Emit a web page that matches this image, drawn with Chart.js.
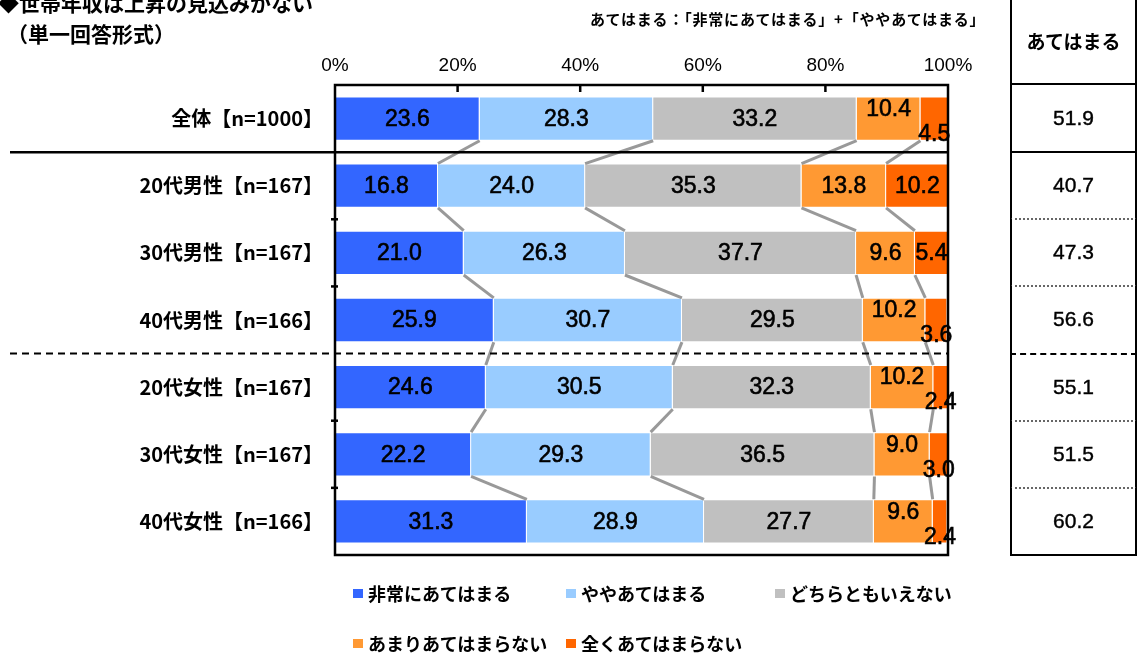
<!DOCTYPE html>
<html lang="ja">
<head>
<meta charset="utf-8">
<script src="https://cdn.jsdelivr.net/npm/chart.js@4"></script>
<style>
  body { margin: 0; background: #fff; overflow: hidden; font-family: 'Liberation Sans', 'Noto Sans CJK JP', sans-serif; }
  #wrap { position: absolute; left: 0; top: 0; width: 1141px; height: 656px; }
  .title { position: absolute; left: -2px; top: -13px; font: bold 21px 'Noto Sans CJK JP'; line-height: 31px; white-space: nowrap; }
  .title .sub { padding-left: 9px; }
  .note { position: absolute; left: 590px; top: 8px; font: bold 15px 'Noto Sans CJK JP'; letter-spacing: 0.8px; white-space: nowrap; }
  .cell { position: absolute; left: 1010px; width: 127px; border-left: 2px solid #000; border-right: 2px solid #000;
          display: flex; align-items: center; justify-content: center; box-sizing: border-box; }
  .legend-item { position: absolute; font: bold 18px 'Noto Sans CJK JP'; white-space: nowrap; display: flex; align-items: center; }
  .legend-item span { display: inline-block; width: 10px; height: 9px; margin-right: 5px; }
</style>
</head>
<body>
<div id="wrap"><canvas id="chart"></canvas></div>
<div class="title">◆世帯年収は上昇の見込みがない<br><span class="sub">（単一回答形式）</span></div>
<div class="note">あてはまる：「非常にあてはまる」+「ややあてはまる」</div>
<div id="table"></div>
<div id="legend"></div>
<script>
var categories = ['全体【n=1000】', '20代男性【n=167】', '30代男性【n=167】', '40代男性【n=166】',
                  '20代女性【n=167】', '30代女性【n=167】', '40代女性【n=166】'];
var seriesNames = ['非常にあてはまる', 'ややあてはまる', 'どちらともいえない', 'あまりあてはまらない', '全くあてはまらない'];
var seriesColors = ['#3366FF', '#99CCFF', '#C0C0C0', '#FF9933', '#FF6600'];

var veryTrue    = [23.6, 16.8, 21.0, 25.9, 24.6, 22.2, 31.3];
var somewhat    = [28.3, 24.0, 26.3, 30.7, 30.5, 29.3, 28.9];
var neither     = [33.2, 35.3, 37.7, 29.5, 32.3, 36.5, 27.7];
var notMuch     = [10.4, 13.8,  9.6, 10.2, 10.2,  9.0,  9.6];
var notAtAll    = [ 4.5, 10.2,  5.4,  3.6,  2.4,  3.0,  2.4];
var applies     = [51.9, 40.7, 47.3, 56.6, 55.1, 51.5, 60.2];
var tickValues  = [0, 20, 40, 60, 80, 100];

var seriesData = [veryTrue, somewhat, neither, notMuch, notAtAll];
var numFont = "'Liberation Sans', 'Noto Sans CJK JP', sans-serif";
var jpFont = "'Noto Sans CJK JP', sans-serif";

// 行の境界（区切り線）の種類: 全体の下は実線, 男性/女性の間は破線
var separators = { 0: 'solid', 3: 'dashed' };

function rowEdges(chart) {
  var y = chart.scales.y;
  var step = (y.bottom - y.top) / categories.length;
  return categories.map(function (c, i) { return y.top + step * i; }).concat([y.bottom]);
}

var framePlugin = {
  id: 'frame',
  afterDatasetsDraw: function (chart) {
    var ctx = chart.ctx, a = chart.chartArea, x = chart.scales.x;
    var edges = rowEdges(chart);
    ctx.save();

    // 行間のつなぎ線
    ctx.strokeStyle = '#999999';
    ctx.lineWidth = 3;
    for (var i = 0; i < categories.length - 1; i++) {
      for (var d = 0; d < 4; d++) {
        var e1 = chart.getDatasetMeta(d).data[i];
        var e2 = chart.getDatasetMeta(d).data[i + 1];
        ctx.beginPath();
        ctx.moveTo(e1.x, e1.y + e1.height / 2);
        ctx.lineTo(e2.x, e2.y - e2.height / 2);
        ctx.stroke();
      }
    }

    // 区切り線
    ctx.strokeStyle = '#000';
    for (var k = 1; k < categories.length; k++) {
      var yy = edges[k];
      var kind = separators[k - 1];
      ctx.beginPath();
      if (kind) {
        ctx.lineWidth = kind === 'solid' ? 2.5 : 2;
        ctx.setLineDash(kind === 'dashed' ? [7, 5] : []);
        ctx.moveTo(10, yy);
        ctx.lineTo(a.right, yy);
      } else {
        ctx.lineWidth = 2.5;
        ctx.setLineDash([]);
        ctx.moveTo(a.left - 4, yy);
        ctx.lineTo(a.left + 3, yy);
      }
      ctx.stroke();
    }
    ctx.setLineDash([]);

    // 外枠と目盛り
    ctx.lineWidth = 2.5;
    ctx.strokeRect(a.left, a.top, a.right - a.left, a.bottom - a.top);
    tickValues.slice(1, -1).forEach(function (v) {
      var px = x.getPixelForValue(v);
      ctx.beginPath();
      ctx.moveTo(px, a.top);
      ctx.lineTo(px, a.top + 7);
      ctx.stroke();
    });

    // 数値ラベル（細い区間は上下にずらす）
    ctx.font = '23px ' + numFont;
    ctx.fillStyle = '#000';
    ctx.lineWidth = 0.6;
    ctx.textAlign = 'center';
    ctx.textBaseline = 'middle';
    for (var r = 0; r < categories.length; r++) {
      var last = chart.getDatasetMeta(4).data[r];
      var lastTxt = notAtAll[r].toFixed(1);
      var tight = ctx.measureText(lastTxt).width > Math.abs(last.x - last.base);
      for (var s = 0; s < seriesData.length; s++) {
        var el = chart.getDatasetMeta(s).data[r];
        var cy = el.y;
        if (tight && s === 3) cy -= 10;
        if (tight && s === 4) cy += 15;
        var txt = seriesData[s][r].toFixed(1);
        var cx = (el.x + el.base) / 2;
        ctx.fillText(txt, cx, cy + 1);
        ctx.strokeText(txt, cx, cy + 1);
      }
    }
    ctx.restore();
  }
};

var chart = new Chart(document.getElementById('chart'), {
  type: 'bar',
  data: {
    labels: categories,
    datasets: seriesData.map(function (vals, i) {
      return {
        label: seriesNames[i],
        data: vals,
        backgroundColor: seriesColors[i],
        borderColor: 'rgba(255,255,255,0.7)',
        borderWidth: 1,
        barPercentage: 0.66,
        categoryPercentage: 1
      };
    })
  },
  options: {
    indexAxis: 'y',
    responsive: true,
    maintainAspectRatio: false,
    animation: false,
    layout: { padding: { left: 0, top: 0, right: 193, bottom: 101 } },
    plugins: { legend: { display: false }, tooltip: { enabled: false } },
    scales: {
      x: {
        position: 'top',
        stacked: true,
        min: 0,
        max: 100,
        afterBuildTicks: function (scale) { scale.ticks = tickValues.map(function (v) { return { value: v }; }); },
        afterFit: function (scale) { scale.height = 85; },
        grid: { display: false },
        border: { display: false },
        ticks: {
          padding: 0,
          color: '#000',
          font: { size: 19, family: numFont },
          callback: function (v) { return v + '%'; }
        }
      },
      y: {
        stacked: true,
        afterFit: function (scale) { scale.width = 335; },
        grid: { display: false },
        border: { display: false },
        ticks: {
          padding: 4,
          color: '#000',
          font: { size: 20, weight: 'bold', family: jpFont }
        }
      }
    }
  },
  plugins: [framePlugin]
});

// 右側の「あてはまる」表
(function () {
  var edges = rowEdges(chart);
  var table = document.getElementById('table');
  var lines = ['solid', 'dotted', 'dotted', 'dashed', 'dotted', 'dotted', 'solid'];
  var head = document.createElement('div');
  head.className = 'cell';
  head.style.top = '-3px';
  head.style.height = (edges[0] + 3) + 'px';
  head.style.borderBottom = '2px solid #000';
  head.style.font = "bold 19px 'Noto Sans CJK JP'";
  head.textContent = 'あてはまる';
  table.appendChild(head);
  applies.forEach(function (v, i) {
    var c = document.createElement('div');
    c.className = 'cell';
    c.style.top = edges[i] + 'px';
    c.style.height = (edges[i + 1] - edges[i] + 1) + 'px';
    var st = lines[i];
    c.style.borderBottom = st === 'dotted' ? '2px dotted #666' : '2px ' + st + ' #000';
    c.style.font = '21px ' + numFont;
    c.style.webkitTextStroke = '0.4px #000';
    c.textContent = v.toFixed(1);
    table.appendChild(c);
  });

  // 凡例
  var legend = document.getElementById('legend');
  var pos = [[353, 593], [566, 593], [775, 593], [353, 643], [566, 643]];
  seriesNames.forEach(function (name, i) {
    var item = document.createElement('div');
    item.className = 'legend-item';
    item.style.left = pos[i][0] + 'px';
    item.style.top = (pos[i][1] - 13) + 'px';
    item.innerHTML = '<span style="background:' + seriesColors[i] + '"></span>' + name;
    legend.appendChild(item);
  });
})();
</script>
</body>
</html>
